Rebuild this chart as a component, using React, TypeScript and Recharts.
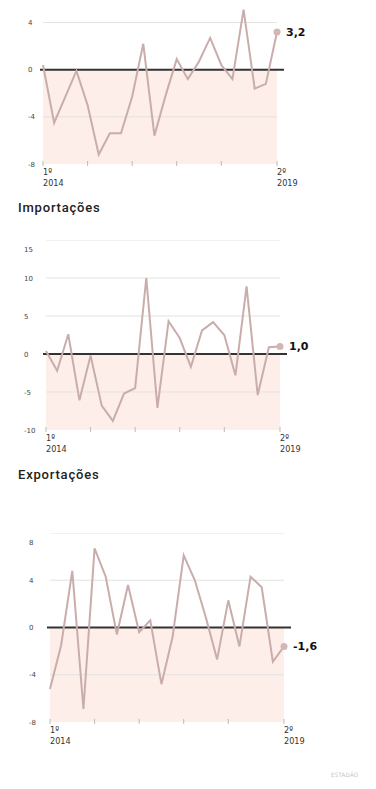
import React from 'react';
import { LineChart, Line, XAxis, YAxis, ReferenceArea, ReferenceLine } from 'recharts';

// trimestres de 1º 2014 a 2º 2019
const quarters = [
  '1º 2014', '2º 2014', '3º 2014', '4º 2014',
  '1º 2015', '2º 2015', '3º 2015', '4º 2015',
  '1º 2016', '2º 2016', '3º 2016', '4º 2016',
  '1º 2017', '2º 2017', '3º 2017', '4º 2017',
  '1º 2018', '2º 2018', '3º 2018', '4º 2018',
  '1º 2019', '2º 2019',
];
const yearTicks = ['1º 2014', '1º 2015', '1º 2016', '1º 2017', '1º 2018', '2º 2019'];
const labelledTicks = ['1º 2014', '2º 2019'];

const pib = [0.4, -4.5, -2.3, -0.1, -3.0, -7.2, -5.4, -5.4, -2.3, 2.2, -5.6, -2.2, 0.9, -0.8, 0.7, 2.7, 0.4, -0.8, 5.1, -1.6, -1.2, 3.2];
const importacoes = [0.4, -2.2, 2.6, -6.1, -0.2, -6.8, -8.8, -5.2, -4.5, 10.0, -7.1, 4.3, 2.1, -1.7, 3.1, 4.2, 2.5, -2.8, 8.9, -5.4, 0.9, 1.0];
const exportacoes = [-5.2, -1.5, 4.8, -6.9, 6.7, 4.3, -0.6, 3.6, -0.4, 0.6, -4.8, -0.8, 6.1, 4.0, 0.8, -2.7, 2.3, -1.6, 4.3, 3.4, -2.9, -1.6];

const pibTicks = [-8, -4, 0, 4];
const impTicks = [-10, -5, 0, 5, 10, 15];
const expTicks = [-8, -4, 0, 4, 8];

const LINE = '#c9adab';
const DOT = '#d2b7b5';
const PINK = '#fdeee9';
const GRID = '#e3e3e3';

type PanelProps = {
  values: number[];
  domain: [number, number];
  ticks: number[];
  top: number;
  left: number;
  right: number;
  plotH: number;
  labelX: number;
};

const fmt = (v: number) => v.toFixed(1).replace('.', ',');

const Panel = ({ values, domain, ticks, top, left, right, plotH, labelX }: PanelProps) => {
  const data = quarters.map((q, i) => ({ q, v: values[i] }));
  const last = values.length - 1;
  const grid = ticks.filter(t => t !== 0 && t !== domain[0]);
  return (
    <div style={{ position: 'absolute', top, left: 0 }}>
      <LineChart width={376} height={plotH + 36} data={data} margin={{ top: 0, right: 376 - right, bottom: 0, left: 0 }}>
        <XAxis
          dataKey="q"
          ticks={yearTicks}
          interval={0}
          height={36}
          axisLine={false}
          tickLine={false}
          tickSize={0}
          tickMargin={0}
          tick={(p: any) => {
            const v = p.payload.value as string;
            const parts = v.split(' ');
            const show = labelledTicks.includes(v);
            return (
              <g key={v}>
                <line x1={p.x} x2={p.x} y1={p.y - 3} y2={p.y + 2} stroke="#bbb" strokeWidth={1} />
                {show && (
                  <text x={p.x} y={p.y + 11} fontSize={9} fill="#333" fontFamily="DejaVu Sans Condensed">
                    <tspan x={p.x}>{parts[0]}</tspan>
                    <tspan x={p.x} dy={11}>{parts[1]}</tspan>
                  </text>
                )}
              </g>
            );
          }}
        />
        <YAxis
          type="number"
          domain={domain}
          ticks={ticks}
          width={left}
          axisLine={false}
          tickLine={false}
          tick={(p: any) => (
            <text key={p.payload.value} x={labelX} y={p.y + 2.5} fontSize={7} fill="#444" fontFamily="DejaVu Sans">
              {p.payload.value}
            </text>
          )}
        />
        <ReferenceArea y1={domain[0]} y2={0} fill={PINK} fillOpacity={1} stroke="none" />
        {grid.map(g => (
          <ReferenceLine key={g} y={g} stroke={GRID} strokeWidth={1} />
        ))}
        <ReferenceLine
          y={0}
          shape={(p: any) => (
            <line x1={p.x1 - 3} x2={p.x2 + 7} y1={p.y1} y2={p.y2} stroke="#333" strokeWidth={2} />
          )}
        />
        <Line
          type="linear"
          dataKey="v"
          stroke={LINE}
          strokeWidth={2}
          isAnimationActive={false}
          dot={(p: any) =>
            p.index === last ? (
              <g key="end">
                <circle cx={p.cx} cy={p.cy} r={3.5} fill={DOT} />
                <text x={p.cx + 9} y={p.cy + 4} fontSize={11} fontWeight="bold" fill="#111" fontFamily="DejaVu Sans">
                  {fmt(values[last])}
                </text>
              </g>
            ) : (
              <g key={p.index} />
            )
          }
          activeDot={false}
        />
      </LineChart>
    </div>
  );
};

const titleStyle: React.CSSProperties = {
  position: 'absolute',
  left: 18,
  fontFamily: 'Roboto, sans-serif',
  fontSize: 13,
  fontWeight: 500,
  letterSpacing: 0.8,
  color: '#222',
  lineHeight: '13px',
};

export default function App() {
  return (
    <div style={{ position: 'relative', margin: -8, width: 376, height: 789, background: '#fff', overflow: 'hidden' }}>
      <Panel values={pib} domain={[-8, 6]} ticks={pibTicks} top={-1} left={43} right={277} plotH={165} labelX={28} />

      <div style={{ ...titleStyle, top: 201 }}>Importações</div>
      <Panel values={importacoes} domain={[-10, 15]} ticks={impTicks} top={240} left={46} right={280} plotH={190} labelX={24} />

      <div style={{ ...titleStyle, top: 468 }}>Exportações</div>
      <Panel values={exportacoes} domain={[-8, 8]} ticks={expTicks} top={533} left={50} right={284} plotH={189} labelX={29} />

      <div style={{ position: 'absolute', left: 331, top: 771, fontSize: 6, color: '#c4c4c4', fontFamily: 'DejaVu Sans Condensed', letterSpacing: 0.3 }}>
        ESTADÃO
      </div>
    </div>
  );
}
